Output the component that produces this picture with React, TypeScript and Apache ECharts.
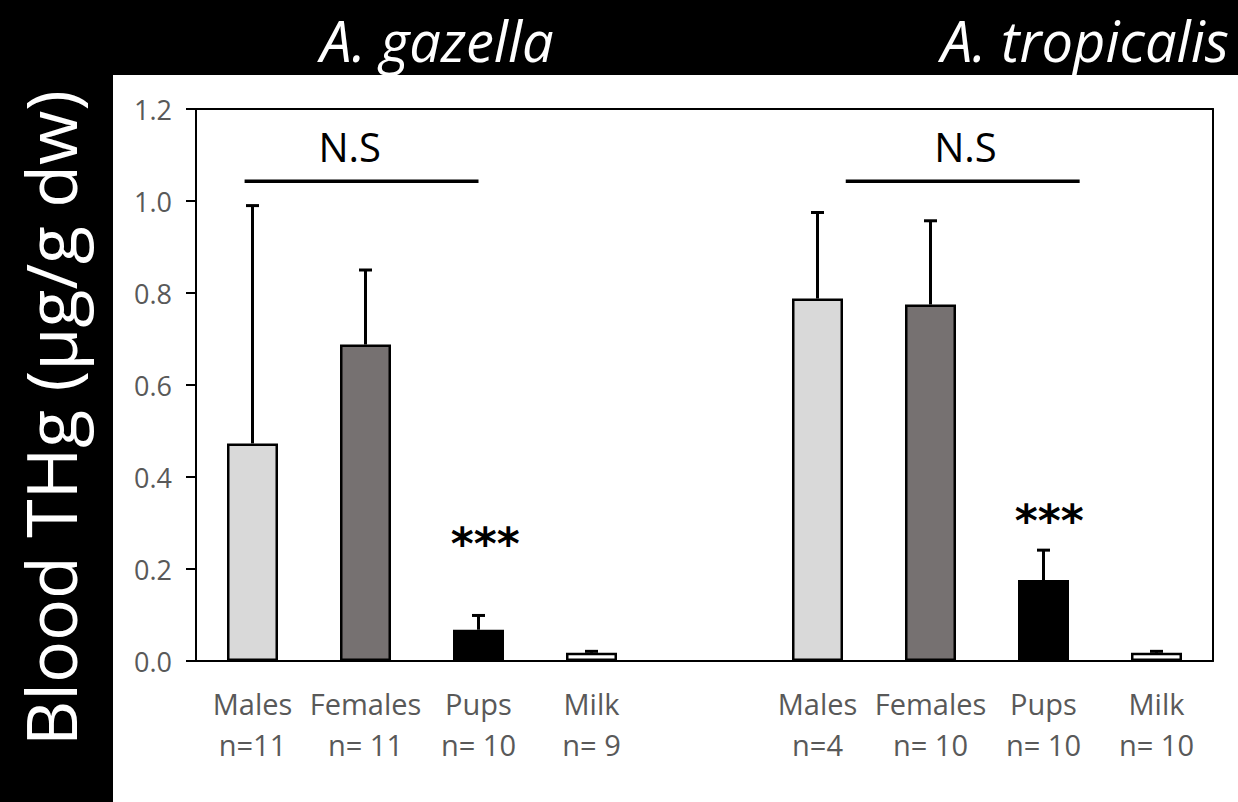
import React, { useEffect, useRef } from "react";
import * as echarts from "echarts";

// ---- data ----
const groups = ["Males", "Females", "Pups", "Milk", "", "Males", "Females", "Pups", "Milk"];
const sampleSizes = ["n=11", "n= 11", "n= 10", "n= 9", "", "n=4", "n= 10", "n= 10", "n= 10"];
const meanTHg: (number | null)[] = [0.473, 0.688, 0.068, 0.018, null, 0.788, 0.775, 0.176, 0.018];
const sdTHg: (number | null)[] = [0.517, 0.162, 0.031, 0.003, null, 0.187, 0.182, 0.065, 0.003];
const yTicks = [0, 0.2, 0.4, 0.6, 0.8, 1.0, 1.2];
const speciesTitles = ["A. gazella", "A. tropicalis"];
const yAxisTitle = "Blood THg (µg/g dw)";
// brackets: [xStart, xEnd, y] in category units / THg units
const nsBrackets = [
  [-0.07, 2.0, 1.043],
  [5.25, 7.32, 1.043],
];
const nsLabels = [
  [0.86, 1.118, "N.S"],
  [6.31, 1.118, "N.S"],
];
const starLabels = [
  [2.06, 0.255, "***"],
  [7.05, 0.305, "***"],
];

// ---- styles ----
const groupFill: Record<string, string> = {
  Males: "#d9d9d9",
  Females: "#767171",
  Pups: "#000000",
  Milk: "#ffffff",
};
const FONT = "'Open Sans', 'Noto Sans', sans-serif";
const GREY = "#595959";

export default function App() {
  const ref = useRef<HTMLDivElement>(null);

  useEffect(() => {
    if (!ref.current) return;
    const chart = echarts.init(ref.current, undefined, { renderer: "svg" });

    const categories = groups.map((g, i) => (g ? `${g}\n${sampleSizes[i]}` : ""));
    const barData = meanTHg.map((v, i) =>
      v == null
        ? null
        : {
            value: v,
            itemStyle: { color: groupFill[groups[i]], borderColor: "#000", borderWidth: 2.5 },
          }
    );
    const errData = meanTHg
      .map((v, i) => (v == null ? null : [i, v, sdTHg[i] as number]))
      .filter((d) => d != null);

    const option: any = {
      animation: false,
      backgroundColor: "#000",
      graphic: [
        { type: "rect", shape: { x: 113, y: 75, width: 1125, height: 727 }, style: { fill: "#fff" }, z: -10 },
        {
          type: "text",
          x: 437,
          y: 40,
          style: {
            text: speciesTitles[0],
            fill: "#fff",
            font: `italic 56px ${FONT}`,
            lineHeight: 60,
            textAlign: "center",
            textVerticalAlign: "middle",
          },
        },
        {
          type: "text",
          x: 1229,
          y: 40,
          style: {
            text: speciesTitles[1],
            fill: "#fff",
            font: `italic 56px ${FONT}`,
            lineHeight: 60,
            textAlign: "right",
            textVerticalAlign: "middle",
          },
        },
        {
          type: "text",
          x: 50,
          y: 418,
          rotation: Math.PI / 2,
          style: {
            text: yAxisTitle,
            fill: "#fff",
            font: `70px ${FONT}`,
            textAlign: "center",
            textVerticalAlign: "middle",
          },
        },
      ],
      grid: { left: 196, top: 109, right: 25, bottom: 141, containLabel: false },
      xAxis: [
        {
          type: "category",
          data: categories,
          position: "bottom",
          axisLine: { show: true, onZero: false, lineStyle: { color: "#000", width: 2 } },
          axisTick: { show: false },
          axisLabel: {
            interval: 0,
            color: GREY,
            fontFamily: FONT,
            fontSize: 29,
            lineHeight: 41,
            margin: 22,
          },
          splitLine: { show: false },
        },
        {
          type: "value",
          min: -0.5,
          max: 8.5,
          position: "top",
          axisLine: { show: true, onZero: false, lineStyle: { color: "#000", width: 2 } },
          axisTick: { show: false },
          axisLabel: { show: false },
          splitLine: { show: false },
        },
      ],
      yAxis: [
        {
          type: "value",
          min: 0,
          max: 1.2,
          interval: 0.2,
          position: "left",
          axisLine: { show: true, onZero: false, lineStyle: { color: "#000", width: 2 } },
          axisTick: { show: true, length: 10, lineStyle: { color: "#000", width: 2 } },
          axisLabel: {
            color: GREY,
            fontFamily: FONT,
            fontSize: 27,
            margin: 24,
            formatter: (v: number) => (yTicks.includes(Math.round(v * 10) / 10) ? v.toFixed(1) : ""),
          },
          splitLine: { show: false },
        },
        {
          type: "value",
          min: 0,
          max: 1.2,
          interval: 0.2,
          position: "right",
          axisLine: { show: true, onZero: false, lineStyle: { color: "#000", width: 2 } },
          axisTick: { show: false },
          axisLabel: { show: false },
          splitLine: { show: false },
        },
      ],
      series: [
        {
          type: "bar",
          xAxisIndex: 0,
          yAxisIndex: 0,
          data: barData,
          barWidth: 51,
          z: 3,
        },
        {
          type: "custom",
          xAxisIndex: 0,
          yAxisIndex: 0,
          data: errData,
          z: 2,
          renderItem: (_p: any, api: any) => {
            const x = api.value(0);
            const m = api.value(1);
            const s = api.value(2);
            const base = api.coord([x, m]);
            const top = api.coord([x, m + s]);
            const style = { stroke: "#000", lineWidth: 3 };
            return {
              type: "group",
              children: [
                { type: "line", shape: { x1: base[0], y1: base[1], x2: top[0], y2: top[1] }, style },
                { type: "line", shape: { x1: top[0] - 6.5, y1: top[1], x2: top[0] + 6.5, y2: top[1] }, style },
              ],
            };
          },
        },
        {
          type: "custom",
          xAxisIndex: 1,
          yAxisIndex: 0,
          data: nsBrackets,
          renderItem: (_p: any, api: any) => {
            const a = api.coord([api.value(0), api.value(2)]);
            const b = api.coord([api.value(1), api.value(2)]);
            return {
              type: "line",
              shape: { x1: a[0], y1: a[1], x2: b[0], y2: b[1] },
              style: { stroke: "#000", lineWidth: 3.5 },
            };
          },
        },
        {
          type: "custom",
          xAxisIndex: 1,
          yAxisIndex: 0,
          data: nsLabels,
          renderItem: (p: any, api: any) => {
            const c = api.coord([api.value(0), api.value(1)]);
            return {
              type: "text",
              x: c[0],
              y: c[1],
              style: {
                text: nsLabels[p.dataIndex][2],
                fill: "#000",
                font: `40px ${FONT}`,
                textAlign: "center",
                textVerticalAlign: "middle",
              },
            };
          },
        },
        {
          type: "custom",
          xAxisIndex: 1,
          yAxisIndex: 0,
          data: starLabels,
          renderItem: (p: any, api: any) => {
            const c = api.coord([api.value(0), api.value(1)]);
            return {
              type: "text",
              x: c[0],
              y: c[1],
              style: {
                text: starLabels[p.dataIndex][2],
                fill: "#000",
                font: `bold 44px 'DejaVu Sans', sans-serif`,
                textAlign: "center",
                textVerticalAlign: "middle",
              },
            };
          },
        },
      ],
    };

    chart.setOption(option);
    return () => chart.dispose();
  }, []);

  return (
    <div
      ref={ref}
      style={{ position: "fixed", left: 0, top: 0, width: 1238, height: 802 }}
    />
  );
}
